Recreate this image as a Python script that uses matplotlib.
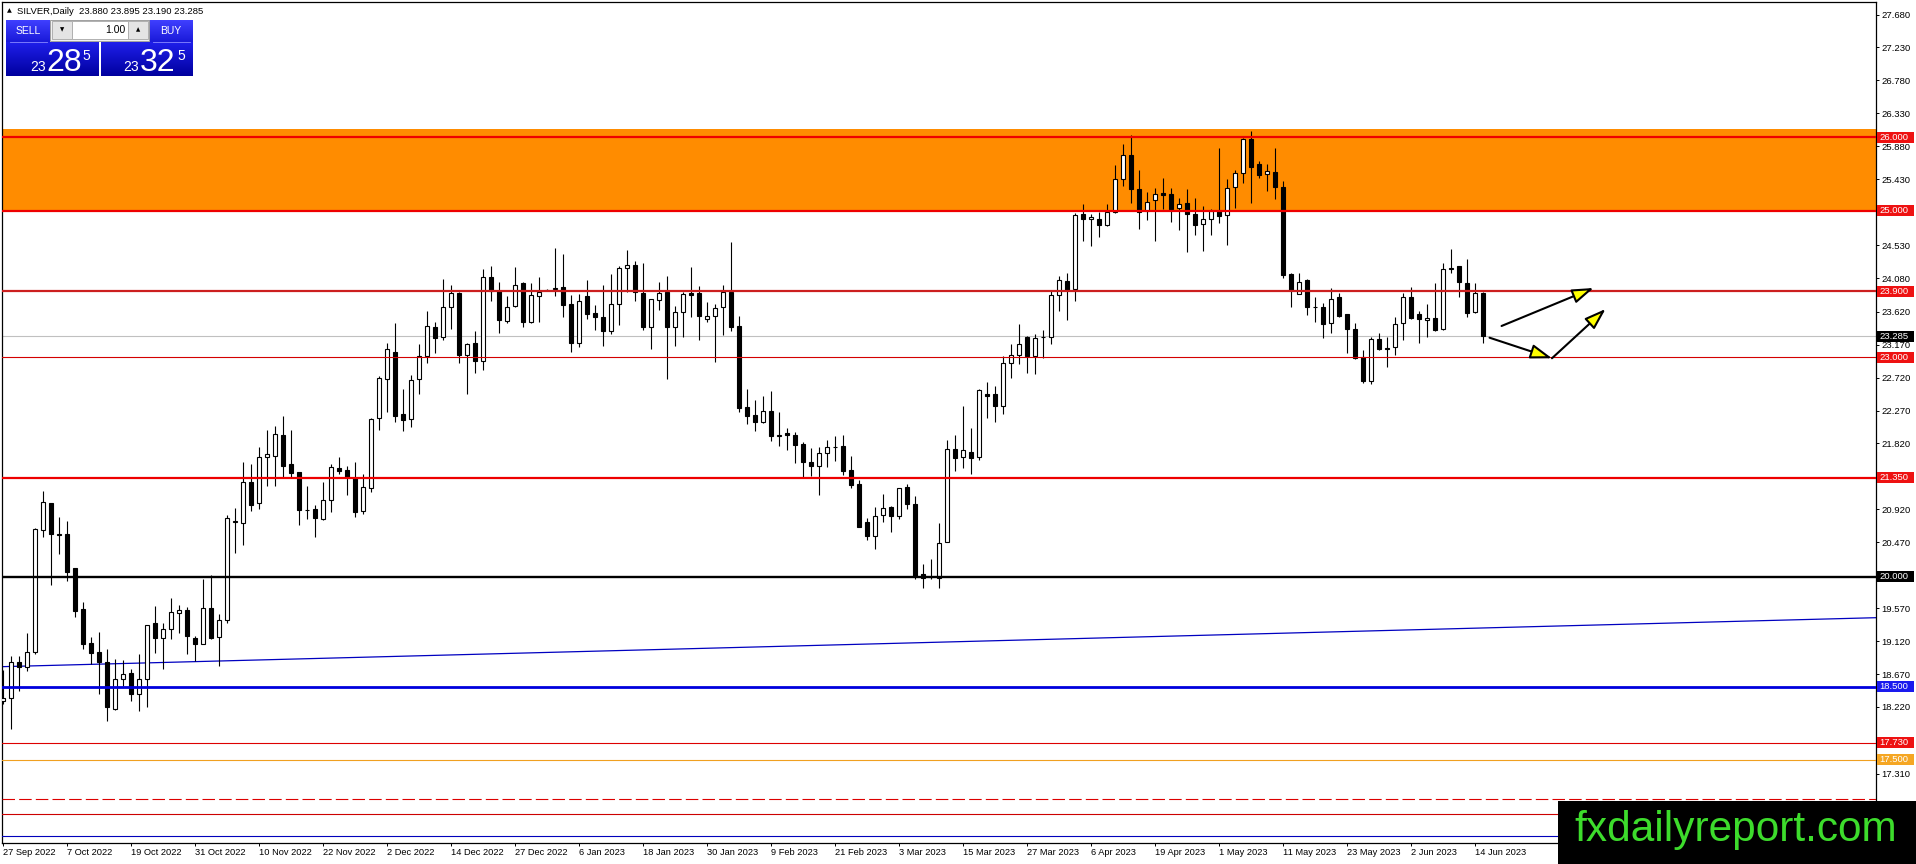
import matplotlib
matplotlib.use('Agg')
import matplotlib.pyplot as plt
from matplotlib.patches import Rectangle
import numpy as np

plt.rcParams['font.family'] = ['Liberation Sans', 'DejaVu Sans']
plt.rcParams['lines.scale_dashes'] = False

# ---------------- data ----------------
opens = [18.30, 18.338, 18.83, 18.76, 18.966, 20.633, 21.0, 20.58, 20.578, 20.114,
         19.554, 19.09, 18.966, 18.83, 18.188, 18.607, 18.68, 18.393, 18.597, 19.372,
         19.158, 19.28, 19.508, 19.54, 19.158, 19.085, 19.567, 19.171, 19.403, 20.751,
         20.729, 21.289, 21.002, 21.630, 21.644, 21.935, 21.539, 21.425, 20.915, 20.924,
         20.788, 21.047, 21.480, 21.457, 21.348, 20.902, 21.207, 22.163, 22.700, 23.074,
         22.222, 22.154, 22.700, 23.010, 23.406, 23.270, 23.679, 23.875, 23.033, 23.192,
         22.942, 24.089, 23.907, 23.497, 23.693, 24.007, 23.484, 23.839, 23.921, 23.930,
         23.953, 23.725, 23.188, 23.839, 23.597, 23.543, 23.361, 23.725, 24.212, 24.258,
         23.875, 23.415, 23.784, 23.893, 23.406, 23.611, 23.871, 23.871, 23.515, 23.556,
         23.679, 23.893, 23.420, 22.313, 22.213, 22.108, 22.268, 21.917, 21.958, 21.940,
         21.812, 21.562, 21.516, 21.689, 21.767, 21.781, 21.462, 21.266, 20.742, 20.560,
         20.847, 20.952, 20.829, 21.230, 20.988, 20.032, 20.000, 19.986, 20.478, 21.740,
         21.635, 21.708, 21.635, 22.500, 22.491, 22.332, 22.924, 23.028, 23.279, 23.015,
         23.270, 23.274, 23.852, 24.039, 23.925, 24.950, 24.891, 24.891, 24.804, 24.986,
         25.437, 25.760, 25.301, 24.995, 25.141, 25.246, 25.223, 25.041, 25.109, 24.959,
         24.822, 24.882, 24.995, 24.941, 25.323, 25.519, 25.984, 25.633, 25.505, 25.533,
         25.328, 24.139, 23.866, 24.048, 23.689, 23.689, 23.461, 23.825, 23.584, 23.388,
         23.005, 22.673, 23.251, 23.128, 23.142, 23.470, 23.825, 23.584, 23.506, 23.538,
         23.379, 24.208, 24.244, 24.016, 23.620, 23.880]
highs = [18.72, 18.916, 18.916, 19.235, 20.66, 21.175, 21.01, 20.82, 20.765, 20.12,
         19.658, 19.171, 19.244, 19.012, 18.87, 18.857, 18.734, 18.943, 19.34, 19.6,
         19.362, 19.704, 19.608, 19.59, 19.19, 19.964, 20.023, 19.49, 20.842, 20.934,
         21.562, 21.539, 21.767, 22.004, 22.063, 22.199, 22.004, 21.43, 21.243, 20.979,
         21.298, 21.539, 21.630, 21.516, 21.571, 21.403, 22.163, 22.737, 23.192, 23.465,
         22.564, 22.760, 23.174, 23.625, 23.484, 24.066, 23.985, 23.884, 23.192, 23.352,
         24.203, 24.240, 24.030, 23.839, 24.235, 24.030, 24.007, 24.098, 23.930, 24.490,
         24.408, 23.852, 23.862, 24.053, 23.716, 23.985, 24.135, 24.249, 24.463, 24.308,
         24.281, 23.800, 24.021, 24.112, 23.693, 23.884, 24.235, 23.966, 23.748, 23.725,
         23.985, 24.567, 23.556, 22.564, 22.413, 22.473, 22.532, 22.245, 22.026, 21.972,
         21.835, 21.758, 21.767, 21.867, 21.926, 21.940, 21.644, 21.325, 20.797, 20.947,
         21.129, 20.965, 21.216, 21.261, 21.102, 20.168, 20.237, 20.729, 21.862, 21.931,
         22.336, 22.026, 22.568, 22.659, 22.605, 23.015, 23.174, 23.456, 23.285, 23.320,
         23.365, 23.902, 24.107, 24.144, 24.973, 25.087, 24.950, 24.982, 25.087, 25.619,
         25.915, 26.029, 25.551, 25.255, 25.314, 25.442, 25.314, 25.178, 25.301, 25.178,
         25.064, 25.018, 25.861, 25.428, 25.551, 25.990, 26.088, 25.679, 25.633, 25.861,
         25.405, 24.145, 24.153, 24.062, 23.825, 23.734, 23.948, 23.871, 23.590, 23.470,
         23.092, 23.279, 23.324, 23.279, 23.552, 23.871, 23.962, 23.629, 23.720, 24.007,
         24.290, 24.472, 24.250, 24.335, 24.016, 23.895]
lows = [18.26, 17.914, 18.44, 18.716, 18.95, 20.546, 19.886, 20.31, 19.945, 19.454,
        19.012, 18.807, 18.397, 18.033, 18.18, 18.506, 18.306, 18.17, 18.224, 18.962,
        18.734, 19.153, 19.226, 18.939, 18.848, 19.08, 19.144, 18.78, 19.362, 20.328,
        20.433, 20.897, 20.924, 21.234, 21.243, 21.357, 21.366, 20.706, 20.788, 20.546,
        20.779, 20.879, 21.403, 21.116, 20.820, 20.856, 21.152, 22.008, 22.245, 22.117,
        21.995, 22.049, 22.495, 22.914, 23.051, 23.238, 23.383, 22.914, 22.495, 22.778,
        22.823, 23.770, 23.324, 23.461, 23.690, 23.415, 23.461, 23.474, 23.912, 23.830,
        23.543, 23.065, 23.142, 23.520, 23.370, 23.156, 23.315, 23.438, 23.893, 23.770,
        23.370, 23.110, 23.643, 22.700, 23.156, 23.270, 23.543, 23.233, 23.484, 22.928,
        23.306, 23.361, 22.245, 22.086, 21.995, 22.100, 21.858, 21.781, 21.735, 21.548,
        21.357, 21.380, 21.120, 21.494, 21.585, 21.393, 21.207, 20.680, 20.501, 20.378,
        20.742, 20.610, 20.792, 20.920, 19.964, 19.850, 19.973, 19.841, 20.470, 21.444,
        21.480, 21.398, 21.589, 22.172, 22.108, 22.218, 22.709, 22.901, 22.787, 22.764,
        22.992, 23.174, 23.629, 23.511, 23.766, 24.586, 24.513, 24.640, 24.791, 24.964,
        25.337, 25.100, 24.754, 24.868, 24.586, 25.018, 24.845, 24.736, 24.435, 24.668,
        24.449, 24.663, 24.836, 24.531, 25.032, 25.383, 25.100, 25.442, 25.269, 25.155,
        24.076, 23.689, 23.857, 23.575, 23.484, 23.265, 23.333, 23.552, 23.060, 22.969,
        22.650, 22.627, 23.097, 22.869, 23.028, 23.229, 23.525, 23.197, 23.274, 23.356,
        23.375, 24.153, 23.825, 23.547, 23.597, 23.190]
closes = [18.34, 18.83, 18.76, 18.966, 20.647, 21.015, 20.587, 20.575, 20.068, 19.535,
          19.085, 18.953, 18.83, 18.215, 18.597, 18.666, 18.393, 18.607, 19.335, 19.158,
          19.28, 19.522, 19.54, 19.194, 19.085, 19.567, 19.167, 19.403, 20.797, 20.76,
          21.289, 20.979, 21.630, 21.676, 21.949, 21.516, 21.412, 20.915, 20.91, 20.797,
          21.047, 21.494, 21.448, 21.357, 20.888, 21.220, 22.154, 22.709, 23.110, 22.199,
          22.145, 22.687, 23.010, 23.420, 23.256, 23.679, 23.871, 23.033, 23.179, 22.942,
          24.089, 23.907, 23.511, 23.679, 23.989, 23.484, 23.848, 23.884, 23.918, 23.939,
          23.711, 23.188, 23.761, 23.588, 23.543, 23.361, 23.725, 24.212, 24.258, 23.884,
          23.415, 23.793, 23.871, 23.415, 23.611, 23.862, 23.852, 23.566, 23.556, 23.666,
          23.893, 23.415, 22.300, 22.199, 22.108, 22.268, 21.917, 21.940, 21.940, 21.803,
          21.562, 21.516, 21.689, 21.767, 21.770, 21.448, 21.252, 20.683, 20.560, 20.833,
          20.934, 20.829, 21.207, 20.988, 20.009, 19.986, 19.990, 20.464, 21.740, 21.626,
          21.726, 21.626, 22.546, 22.468, 22.332, 22.924, 23.028, 23.174, 23.015, 23.265,
          23.274, 23.843, 24.053, 23.916, 24.941, 24.891, 24.918, 24.804, 24.986, 25.437,
          25.760, 25.301, 24.982, 25.118, 25.223, 25.219, 25.018, 25.096, 24.959, 24.804,
          24.882, 24.995, 24.927, 25.314, 25.519, 25.984, 25.597, 25.487, 25.542, 25.323,
          24.121, 23.912, 24.030, 23.689, 23.685, 23.447, 23.789, 23.561, 23.388, 22.992,
          22.673, 23.251, 23.106, 23.115, 23.456, 23.825, 23.538, 23.525, 23.538, 23.370,
          24.208, 24.221, 24.026, 23.607, 23.871, 23.285]

date_labels = ['27 Sep 2022', '7 Oct 2022', '19 Oct 2022', '31 Oct 2022', '10 Nov 2022',
               '22 Nov 2022', '2 Dec 2022', '14 Dec 2022', '27 Dec 2022', '6 Jan 2023',
               '18 Jan 2023', '30 Jan 2023', '9 Feb 2023', '21 Feb 2023', '3 Mar 2023',
               '15 Mar 2023', '27 Mar 2023', '6 Apr 2023', '19 Apr 2023', '1 May 2023',
               '11 May 2023', '23 May 2023', '2 Jun 2023', '14 Jun 2023']
date_index = [0, 8, 16, 24, 32, 40, 48, 56, 64, 72, 80, 88, 96, 104, 112, 120, 128,
              136, 144, 152, 160, 168, 176, 184]

price_ticks = [27.680, 27.230, 26.780, 26.330, 25.880, 25.430, 24.980, 24.530, 24.080,
               23.620, 23.170, 22.720, 22.270, 21.820, 21.370, 20.920, 20.470, 20.020,
               19.570, 19.120, 18.670, 18.220, 17.770, 17.310, 16.860]

zone_low, zone_high = 25.000, 26.115
# level, colour, width(pt), style
levels = [(26.000, '#ee0000', 1.6, '-'), (25.000, '#ee0000', 1.6, '-'),
          (23.900, '#cc1f1f', 1.6, '-'), (23.000, '#d40000', 0.8, '-'),
          (21.350, '#ee0000', 1.6, '-'), (20.000, '#000000', 1.7, '-'),
          (18.500, '#0000dd', 2.0, '-'), (17.730, '#dd0000', 0.8, '-'),
          (17.500, '#f0a020', 0.8, '-'), (16.970, '#dd0000', 0.8, '--'),
          (16.760, '#cc0000', 0.8, '-'), (16.460, '#0000bb', 0.8, '-')]
bid_price = 23.285
trend_x = [-0.4, 234.1]
trend_y = [18.77, 19.44]
axis_labels = [(26.000, '26.000', '#ee1111'), (25.000, '25.000', '#ee1111'),
               (23.900, '23.900', '#ee1111'), (23.285, '23.285', '#000000'),
               (23.000, '23.000', '#ee1111'), (21.350, '21.350', '#ee1111'),
               (20.000, '20.000', '#000000'), (18.500, '18.500', '#1a1aee'),
               (17.730, '17.730', '#ee1111'), (17.500, '17.500', '#f5a623')]
arrows = [((187.3, 23.425), (198.8, 23.944)),
          ((185.8, 23.265), (193.6, 22.984)),
          ((193.6, 22.984), (200.3, 23.657))]

# ---------------- figure ----------------
W, H = 1916, 864
fig = plt.figure(figsize=(W / 100, H / 100), dpi=100)
fig.patch.set_facecolor('white')
ax = fig.add_axes([2 / W, (H - 843.3) / H, 1874 / W, (843.3 - 1.7) / H])
ax.set_xlim(-0.125, 234.1)
ax.set_ylim(16.358, 27.855)
ax.set_facecolor('white')

o = np.array(opens); h = np.array(highs); l = np.array(lows); c = np.array(closes)
x = np.arange(len(o))

ax.axhspan(zone_low, zone_high, color='#ff8c00', lw=0, zorder=0.5)
ax.axhline(bid_price, color='#c0c0c0', lw=0.8, zorder=1)
ax.plot(trend_x, trend_y, color='#0000c0', lw=0.9, zorder=1.5)

ax.vlines(x, l, h, color='black', lw=0.8, zorder=2)
up = c >= o
bottoms = np.minimum(o, c)
heights = np.maximum(np.abs(c - o), 0.002)
ax.bar(x, heights, bottom=bottoms, width=0.5,
       color=['white' if u else 'black' for u in up],
       edgecolor='black', linewidth=0.8, zorder=3)

for p, col, lw, ls in levels:
    ln = ax.axhline(p, color=col, lw=lw, zorder=4)
    if ls == '--':
        ln.set_dashes((9, 3))

for (x0, y0), (x1, y1) in arrows:
    ax.annotate('', xy=(x1, y1), xytext=(x0, y0), annotation_clip=False,
                arrowprops=dict(arrowstyle='-|>,head_length=0.65,head_width=0.22',
                                mutation_scale=20, fc='#ffff00', ec='black', lw=1.5,
                                shrinkA=0, shrinkB=0), zorder=6)

# axes styling
for s in ax.spines.values():
    s.set_color('black'); s.set_linewidth(0.9)
ax.yaxis.tick_right()
ax.set_yticks(price_ticks)
ax.set_yticklabels(['%.3f' % t for t in price_ticks])
ax.tick_params(axis='y', direction='out', length=2.2, width=0.7, pad=1.4,
               labelsize=6.8, colors='black')
ax.set_xticks(date_index)
ax.set_xticklabels(date_labels, ha='left')
ax.tick_params(axis='x', direction='out', length=2.5, width=0.7, pad=1.2,
               labelsize=6.7, colors='black')
for lab in ax.get_xticklabels():
    lab.set_x(lab.get_position()[0])

ytr = ax.get_yaxis_transform()
for p, txt, col in axis_labels:
    ax.add_patch(Rectangle((1.0004, p - 0.075), 37 / 1874, 0.15, transform=ytr,
                           facecolor=col, edgecolor='none', clip_on=False, zorder=8))
    ax.text(1 + 3.5 / 1874, p, txt, transform=ytr, color='white', fontsize=6.8,
            va='center', ha='left', clip_on=False, zorder=9)

# ---------------- overlay panel ----------------
def frect(x0, y0, x1, y1, **kw):
    r = Rectangle((x0 / W, 1 - y1 / H), (x1 - x0) / W, (y1 - y0) / H,
                  transform=fig.transFigure, **kw)
    fig.patches.append(r)
    return r

def grad_box(x0, y0, x1, y1, ctop, cbot):
    a = fig.add_axes([x0 / W, 1 - y1 / H, (x1 - x0) / W, (y1 - y0) / H])
    g = np.linspace(0, 1, 64)[:, None, None]
    cols = np.array(ctop)[None, None, :] * (1 - g) + np.array(cbot)[None, None, :] * g
    a.imshow(cols, aspect='auto', extent=[0, 1, 0, 1])
    a.set_axis_off()
    return a

def ftext(px, py, s, **kw):
    fig.text(px / W, 1 - py / H, s, **kw)

ftext(6.5, 11, '\u25B2', fontsize=4.5, va='center', ha='left', family='DejaVu Sans')
ftext(17, 11, 'SILVER,Daily  23.880 23.895 23.190 23.285', fontsize=6.8,
      va='center', ha='left')

grad_box(6, 20, 50, 42, (0.25, 0.25, 1.0), (0.10, 0.10, 0.85))
grad_box(149, 20, 193, 42, (0.25, 0.25, 1.0), (0.10, 0.10, 0.85))
grad_box(6, 42, 99, 76, (0.12, 0.12, 0.92), (0.0, 0.0, 0.62))
grad_box(101, 42, 193, 76, (0.12, 0.12, 0.92), (0.0, 0.0, 0.62))
frect(50, 20, 149, 41, facecolor='#f0f0f0', edgecolor='#a0a0a0', lw=0.7, zorder=2)
frect(52, 21, 72, 39, facecolor='#e4e4e4', edgecolor='#b0b0b0', lw=0.7, zorder=2.1)
frect(72, 21, 128, 39, facecolor='white', edgecolor='#b0b0b0', lw=0.7, zorder=2.1)
frect(128, 21, 148, 39, facecolor='#e4e4e4', edgecolor='#b0b0b0', lw=0.7, zorder=2.1)
ftext(62, 30, '\u25BC', fontsize=4, ha='center', va='center', family='DejaVu Sans',
      zorder=5)
ftext(138, 30, '\u25B2', fontsize=4, ha='center', va='center', family='DejaVu Sans',
      zorder=5)
ftext(125, 30, '1.00', fontsize=7.5, ha='right', va='center', zorder=5)
ftext(28, 31, 'SELL', fontsize=7.5, color='white', ha='center', va='center', zorder=5)
ftext(171, 31, 'BUY', fontsize=7.5, color='white', ha='center', va='center', zorder=5)
for px in (10, 153):
    pass
fig.lines.append(plt.Line2D([10 / W, 47 / W], [1 - 41.5 / H] * 2, color='#8888ff',
                            lw=0.6, transform=fig.transFigure))
fig.lines.append(plt.Line2D([153 / W, 190 / W], [1 - 41.5 / H] * 2, color='#8888ff',
                            lw=0.6, transform=fig.transFigure))
ftext(30, 71, '23', fontsize=10, color='white', ha='left', va='baseline', zorder=5)
ftext(46, 71, '28', fontsize=23, color='white', ha='left', va='baseline', zorder=5)
ftext(82, 60, '5', fontsize=10, color='white', ha='left', va='baseline', zorder=5)
ftext(123, 71, '23', fontsize=10, color='white', ha='left', va='baseline', zorder=5)
ftext(140, 71, '32', fontsize=23, color='white', ha='left', va='baseline', zorder=5)
ftext(177, 60, '5', fontsize=10, color='white', ha='left', va='baseline', zorder=5)

# watermark box
frect(1558, 801, 1916, 864, facecolor='black', edgecolor='none', zorder=10)
ftext(1736, 830, 'fxdailyreport.com', fontsize=30.5, color='#3ddc2c', ha='center',
      va='center', zorder=11, family='Liberation Sans')

fig.savefig('out.png', dpi=100, facecolor='white')
